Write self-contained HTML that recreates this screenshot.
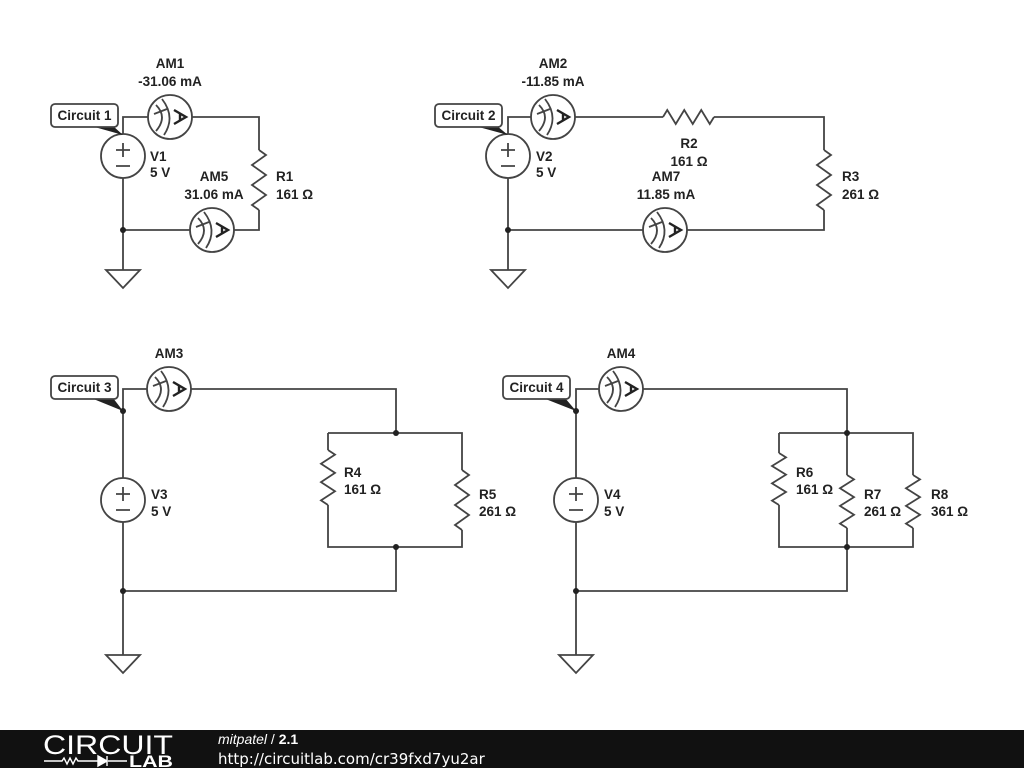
<!DOCTYPE html>
<html><head><meta charset="utf-8"><style>
html,body{margin:0;padding:0;background:#fff;width:1024px;height:768px;overflow:hidden}
svg text{font-family:"Liberation Sans",sans-serif;font-weight:bold;font-size:13.5px;fill:#222}
</style></head><body>
<svg id="s" width="1024" height="768" xmlns="http://www.w3.org/2000/svg">
<g id="w" stroke="#444" stroke-width="1.8" fill="none">
<path d="M123 134V117H148M192 117H259V150M259 210V230H234M190 230H123V178M123 230V270"/>
<path d="M508 134V117H531M575 117H663M714 117H824V150M824 210V230H687M643 230H508V178M508 230V270"/>
<path d="M123 478V389H147M191 389H396V433M328 433H462V470M462 530V547H328V505M328 450V433M396 547V591H123V522M123 591V655"/>
<path d="M576 478V389H599M643 389H847V433M779 433H913V475M913 528V547H779V505M779 453V433M847 433V475M847 528V547M847 547V591H576V522M576 591V655"/>
</g>
<g id="dyn" stroke="#444" stroke-width="1.8" fill="none"></g>
<g fill="#222">
<circle cx="123" cy="230" r="3"/><circle cx="508" cy="230" r="3"/>
<circle cx="396" cy="433" r="3"/><circle cx="396" cy="547" r="3"/><circle cx="123" cy="591" r="3"/><circle cx="123" cy="411" r="3"/>
<circle cx="847" cy="433" r="3"/><circle cx="847" cy="547" r="3"/><circle cx="576" cy="591" r="3"/><circle cx="576" cy="411" r="3"/>
</g>
<g id="labels"></g>
<text x="170" y="68" text-anchor="middle">AM1</text><text x="170" y="86" text-anchor="middle">-31.06 mA</text>
<text x="150" y="161">V1</text><text x="150" y="177">5 V</text>
<text x="214" y="181" text-anchor="middle">AM5</text><text x="214" y="199" text-anchor="middle">31.06 mA</text>
<text x="276" y="181">R1</text><text x="276" y="199">161 Ω</text>
<text x="553" y="68" text-anchor="middle">AM2</text><text x="553" y="86" text-anchor="middle">-11.85 mA</text>
<text x="536" y="161">V2</text><text x="536" y="177">5 V</text>
<text x="689" y="148" text-anchor="middle">R2</text><text x="689" y="166" text-anchor="middle">161 Ω</text>
<text x="666" y="181" text-anchor="middle">AM7</text><text x="666" y="199" text-anchor="middle">11.85 mA</text>
<text x="842" y="181">R3</text><text x="842" y="199">261 Ω</text>
<text x="169" y="358" text-anchor="middle">AM3</text>
<text x="151" y="499">V3</text><text x="151" y="516">5 V</text>
<text x="344" y="477">R4</text><text x="344" y="494">161 Ω</text>
<text x="479" y="499">R5</text><text x="479" y="516">261 Ω</text>
<text x="621" y="358" text-anchor="middle">AM4</text>
<text x="604" y="499">V4</text><text x="604" y="516">5 V</text>
<text x="796" y="477">R6</text><text x="796" y="494">161 Ω</text>
<text x="864" y="499">R7</text><text x="864" y="516">261 Ω</text>
<text x="931" y="499">R8</text><text x="931" y="516">361 Ω</text>
<rect x="0" y="730" width="1024" height="38" fill="#111"/>
<text x="43" y="754" style="font-weight:normal;font-size:27px;fill:#fff" textLength="130" lengthAdjust="spacingAndGlyphs">CIRCUIT</text>
<text x="129" y="767" style="font-weight:bold;font-size:17px;fill:#fff" textLength="44" lengthAdjust="spacingAndGlyphs">LAB</text>
<path d="M44 761H62l2-3 3 6 3-6 3 6 3-6 2 3H98M108 761H127" stroke="#fff" stroke-width="1.4" fill="none"/>
<path d="M98 756v10l9-5zM107 756v10" stroke="#fff" fill="#fff" stroke-width="1.4"/>
<text x="218" y="744" style="font-weight:normal;font-size:14px;fill:#fff"><tspan font-style="italic">mitpatel</tspan> / <tspan font-weight="bold">2.1</tspan></text>
<text x="218" y="764" style="font-weight:normal;font-size:15px;fill:#fff;font-family:'DejaVu Sans',sans-serif">http://circuitlab.com/cr39fxd7yu2ar</text>
</svg>
<script>
var NS="http://www.w3.org/2000/svg",d=document.getElementById("dyn"),L=document.getElementById("labels");
function el(p,t,a){var e=document.createElementNS(NS,t);for(var k in a)e.setAttribute(k,a[k]);p.appendChild(e);return e;}
function resV(x,y1,y2){var n=6,h=(y2-y1)/n,s="M"+x+" "+y1;for(var i=0;i<n;i++){s+=" L"+(x+(i%2?-7:7))+" "+(y1+h*(i+0.5));}s+=" L"+x+" "+y2;el(d,"path",{d:s});}
function resH(x1,x2,y){var n=6,h=(x2-x1)/n,s="M"+x1+" "+y;for(var i=0;i<n;i++){s+=" L"+(x1+h*(i+0.5))+" "+(y+(i%2?7:-7));}s+=" L"+x2+" "+y;el(d,"path",{d:s});}
function am(cx,cy){el(d,"circle",{cx:cx,cy:cy,r:22});
el(d,"path",{d:"M"+(cx-14)+" "+(cy-12)+" Q"+(cx-2)+" "+cy+" "+(cx-14)+" "+(cy+14)});
el(d,"path",{d:"M"+(cx-8)+" "+(cy-18)+" Q"+(cx+6)+" "+cy+" "+(cx-6)+" "+(cy+18)});
el(d,"path",{d:"M"+(cx-16)+" "+(cy-3)+" L"+(cx-3)+" "+(cy-8)});
el(d,"path",{d:"M"+(cx+4)+" "+(cy-7)+" L"+(cx+16)+" "+cy+" L"+(cx+4)+" "+(cy+7)+" M"+(cx+10)+" "+(cy-4)+" V"+(cy+4),"stroke-width":"2.4","stroke":"#222"});}
function vs(cx,cy){el(d,"circle",{cx:cx,cy:cy,r:22});el(d,"path",{d:"M"+(cx-7)+" "+(cy-6)+"H"+(cx+7)+"M"+cx+" "+(cy-13)+"V"+(cy+1)+"M"+(cx-7)+" "+(cy+10)+"H"+(cx+7)});}
function gnd(x,y){el(d,"path",{d:"M"+(x-17)+" "+y+"H"+(x+17)+"L"+x+" "+(y+18)+"Z"});}
function tag(x,y,txt,px,py){el(L,"path",{d:"M"+(x+40)+" "+(y+22)+" L"+px+" "+py+" L"+(x+62)+" "+(y+22)+"Z",fill:"#222"});
el(L,"rect",{x:x,y:y,width:67,height:23,rx:4,fill:"#fff",stroke:"#444","stroke-width":"1.8"});
var t=el(L,"text",{x:x+33.5,y:y+16,"text-anchor":"middle"});t.textContent=txt;}
am(170,117);am(212,230);vs(123,156);resV(259,150,210);gnd(123,270);
am(553,117);am(665,230);vs(508,156);resH(663,714,117);resV(824,150,210);gnd(508,270);
am(169,389);vs(123,500);resV(328,450,505);resV(462,470,530);gnd(123,655);
am(621,389);vs(576,500);resV(779,453,505);resV(847,475,528);resV(913,475,528);gnd(576,655);
tag(51,104,"Circuit 1",123,135);tag(435,104,"Circuit 2",508,135);
tag(51,376,"Circuit 3",123,411);tag(503,376,"Circuit 4",576,411);
</script>
</body></html>
